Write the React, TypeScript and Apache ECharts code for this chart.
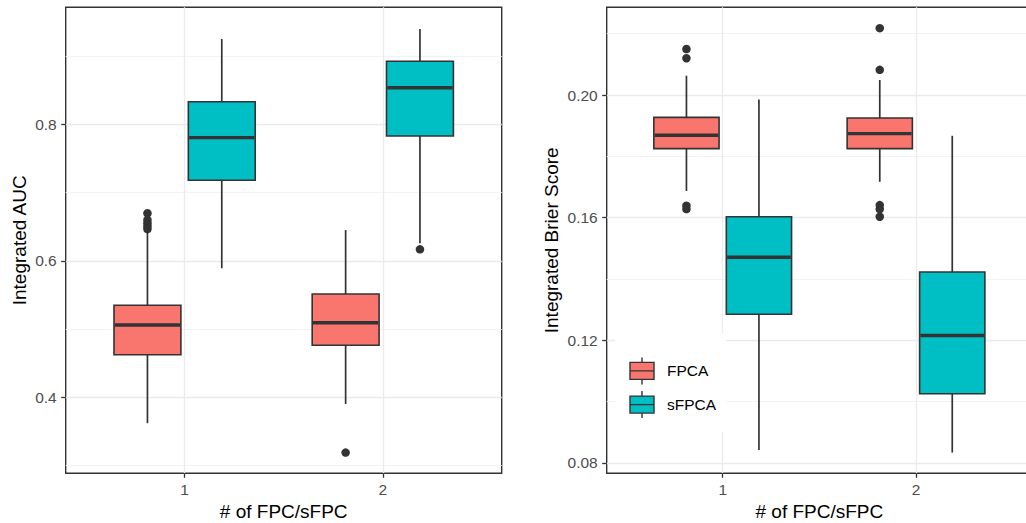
import React, { useEffect, useRef } from "react";
import * as echarts from "echarts";

// ---------- data ----------
const categories = [1, 2];
const groupNames = ["FPCA", "sFPCA"];
const groupColors = ["#F8766D", "#00BFC4"];

// [lower whisker, Q1, median, Q3, upper whisker] for each category
const aucFPCA = [
  [0.362, 0.4624, 0.5059, 0.5348, 0.645],
  [0.3902, 0.4762, 0.5093, 0.5513, 0.645],
];
const aucSFPCA = [
  [0.589, 0.718, 0.7804, 0.8331, 0.925],
  [0.6256, 0.7829, 0.8536, 0.8923, 0.9396],
];
// [category, value]
const aucFPCAOutliers = [
  [1, 0.6696],
  [1, 0.6598],
  [1, 0.655],
  [1, 0.6505],
  [1, 0.6465],
  [2, 0.3189],
];
const aucSFPCAOutliers = [[2, 0.6168]];

const brierFPCA = [
  [0.1687, 0.1825, 0.1869, 0.1927, 0.2063],
  [0.1717, 0.1825, 0.1874, 0.1925, 0.2049],
];
const brierSFPCA = [
  [0.0842, 0.1285, 0.1471, 0.1603, 0.1985],
  [0.0834, 0.1026, 0.1216, 0.1423, 0.1867],
];
const brierFPCAOutliers = [
  [1, 0.215],
  [1, 0.212],
  [1, 0.1639],
  [1, 0.1628],
  [2, 0.2218],
  [2, 0.2082],
  [2, 0.1641],
  [2, 0.1628],
  [2, 0.1603],
];
const brierSFPCAOutliers: number[][] = [];

const aucTicks = [0.4, 0.6, 0.8];
const aucMinor = [0.3, 0.5, 0.7, 0.9];
const brierTicks = [0.08, 0.12, 0.16, 0.2];
const brierMinor = [0.1, 0.14, 0.18, 0.22];

const xTitle = "# of FPC/sFPC";
const aucTitle = "Integrated AUC";
const brierTitle = "Integrated Brier Score";

// ---------- styling ----------
const FONT = "Liberation Sans, Arial, Helvetica, sans-serif";
const DODGE = 0.1875;
const BOX_W = 0.3375;
const STROKE = "#333333";
const GRID_MAJOR = "#EBEBEB";
const GRID_MINOR = "#F3F3F3";

function boxSeries(name: string, color: string, stats: number[][], offset: number, axisIndex: number) {
  return {
    type: "custom",
    name,
    xAxisIndex: axisIndex,
    yAxisIndex: axisIndex * 2,
    itemStyle: { color },
    data: stats.map((s, i) => [categories[i], ...s]),
    encode: { x: 0, y: [1, 2, 3, 4, 5] },
    renderItem: (_params: any, api: any) => {
      const x = api.value(0) + offset;
      const lo = api.coord([x, api.value(1)]);
      const q1 = api.coord([x, api.value(2)]);
      const med = api.coord([x, api.value(3)]);
      const q3 = api.coord([x, api.value(4)]);
      const hi = api.coord([x, api.value(5)]);
      const w = api.size([BOX_W, 0])[0];
      const cx = lo[0];
      return {
        type: "group",
        children: [
          { type: "line", shape: { x1: cx, y1: hi[1], x2: cx, y2: q3[1] }, style: { stroke: STROKE, lineWidth: 1.7 } },
          { type: "line", shape: { x1: cx, y1: q1[1], x2: cx, y2: lo[1] }, style: { stroke: STROKE, lineWidth: 1.7 } },
          {
            type: "rect",
            shape: { x: cx - w / 2, y: q3[1], width: w, height: q1[1] - q3[1] },
            style: { fill: color, stroke: STROKE, lineWidth: 1.6 },
          },
          {
            type: "line",
            shape: { x1: cx - w / 2 + 0.8, y1: med[1], x2: cx + w / 2 - 0.8, y2: med[1] },
            style: { stroke: STROKE, lineWidth: 3.4 },
          },
        ],
      };
    },
  };
}

function outlierSeries(name: string, pts: number[][], offset: number, axisIndex: number) {
  return {
    type: "scatter",
    name,
    xAxisIndex: axisIndex,
    yAxisIndex: axisIndex * 2,
    symbol: "circle",
    symbolSize: 8.5,
    itemStyle: { color: STROKE, opacity: 1 },
    data: pts.map((p) => [p[0] + offset, p[1]]),
    z: 3,
  };
}

function xAxis(gridIndex: number) {
  return {
    type: "value",
    gridIndex,
    min: 0.4,
    max: 2.6,
    name: xTitle,
    nameLocation: "middle",
    nameGap: 28,
    nameTextStyle: { fontFamily: FONT, fontSize: 19, color: "#000" },
    axisLine: { show: false },
    axisTick: { show: true, length: 4.5, customValues: categories, lineStyle: { color: STROKE, width: 1.3 } },
    axisLabel: {
      customValues: categories,
      margin: 8,
      fontFamily: FONT,
      fontSize: 15.5,
      color: "#4D4D4D",
      formatter: (v: number) => String(v),
    },
    splitLine: { show: true, lineStyle: { color: GRID_MAJOR, width: 1.3 } },
  };
}

function yAxes(gridIndex: number, min: number, max: number, ticks: number[], minor: number[], title: string, digits: number, nameGap: number) {
  return [
    {
      type: "value",
      gridIndex,
      min,
      max,
      name: title,
      nameLocation: "middle",
      nameGap,
      nameTextStyle: { fontFamily: FONT, fontSize: 19, color: "#000" },
      axisLine: { show: false },
      axisTick: { show: true, length: 4.5, customValues: ticks, lineStyle: { color: STROKE, width: 1.3 } },
      axisLabel: {
        customValues: ticks,
        margin: 9,
        fontFamily: FONT,
        fontSize: 15.5,
        color: "#4D4D4D",
        formatter: (v: number) => v.toFixed(digits),
      },
      splitLine: { show: true, lineStyle: { color: GRID_MAJOR, width: 1.3 } },
    },
    {
      type: "value",
      gridIndex,
      min,
      max,
      position: "left",
      axisLine: { show: false },
      axisTick: { show: false, customValues: minor },
      axisLabel: { show: false, customValues: minor },
      splitLine: { show: true, lineStyle: { color: GRID_MINOR, width: 1 } },
    },
  ];
}

const legendIcon = "path://M0,5 H24 V22 H0 Z M0,13.5 H24 M12,0 V5 M12,22 V27";

export default function App() {
  const ref = useRef<HTMLDivElement>(null);
  useEffect(() => {
    if (!ref.current) return;
    const chart = echarts.init(ref.current, undefined, { renderer: "svg" });
    chart.setOption({
      animation: false,
      backgroundColor: "#fff",
      grid: [
        {
          left: 65.7, top: 7.3, width: 436, height: 466, show: true,
          borderColor: STROKE, borderWidth: 1.4, backgroundColor: "#fff",
          containLabel: false, outerBoundsMode: "none",
        },
        {
          left: 606.7, top: 7.3, width: 425.3, height: 466, show: true,
          borderColor: STROKE, borderWidth: 1.4, backgroundColor: "#fff",
          containLabel: false, outerBoundsMode: "none",
        },
      ],
      xAxis: [xAxis(0), xAxis(1)],
      yAxis: [
        ...yAxes(0, 0.2886, 0.9714, aucTicks, aucMinor, aucTitle, 1, 37),
        ...yAxes(1, 0.07664, 0.2286, brierTicks, brierMinor, brierTitle, 46, 46).map((a, i) =>
          i === 0 ? { ...a, axisLabel: { ...a.axisLabel, formatter: (v: number) => v.toFixed(2) } } : a
        ),
      ],
      legend: {
        show: true,
        orient: "vertical",
        left: 615,
        top: 333,
        backgroundColor: "#fff",
        padding: [23.7, 10, 13, 14.3],
        itemGap: 5.3,
        itemWidth: 24,
        itemHeight: 27,
        selectedMode: false,
        itemStyle: { borderColor: STROKE, borderWidth: 1.4 },
        textStyle: { fontFamily: FONT, fontSize: 15.5, color: "#000", padding: [0, 0, 0, 8] },
        data: groupNames.map((n) => ({ name: n, icon: legendIcon })),
      },
      series: [
        boxSeries(groupNames[0], groupColors[0], aucFPCA, -DODGE, 0),
        boxSeries(groupNames[1], groupColors[1], aucSFPCA, DODGE, 0),
        outlierSeries("FPCA outliers", aucFPCAOutliers, -DODGE, 0),
        outlierSeries("sFPCA outliers", aucSFPCAOutliers, DODGE, 0),
        boxSeries(groupNames[0], groupColors[0], brierFPCA, -DODGE, 1),
        boxSeries(groupNames[1], groupColors[1], brierSFPCA, DODGE, 1),
        outlierSeries("FPCA outliers", brierFPCAOutliers, -DODGE, 1),
        outlierSeries("sFPCA outliers", brierSFPCAOutliers, DODGE, 1),
      ],
    });
    return () => chart.dispose();
  }, []);
  return (
    <div
      ref={ref}
      style={{ position: "absolute", left: 0, top: 0, width: 1026, height: 523 }}
    />
  );
}
